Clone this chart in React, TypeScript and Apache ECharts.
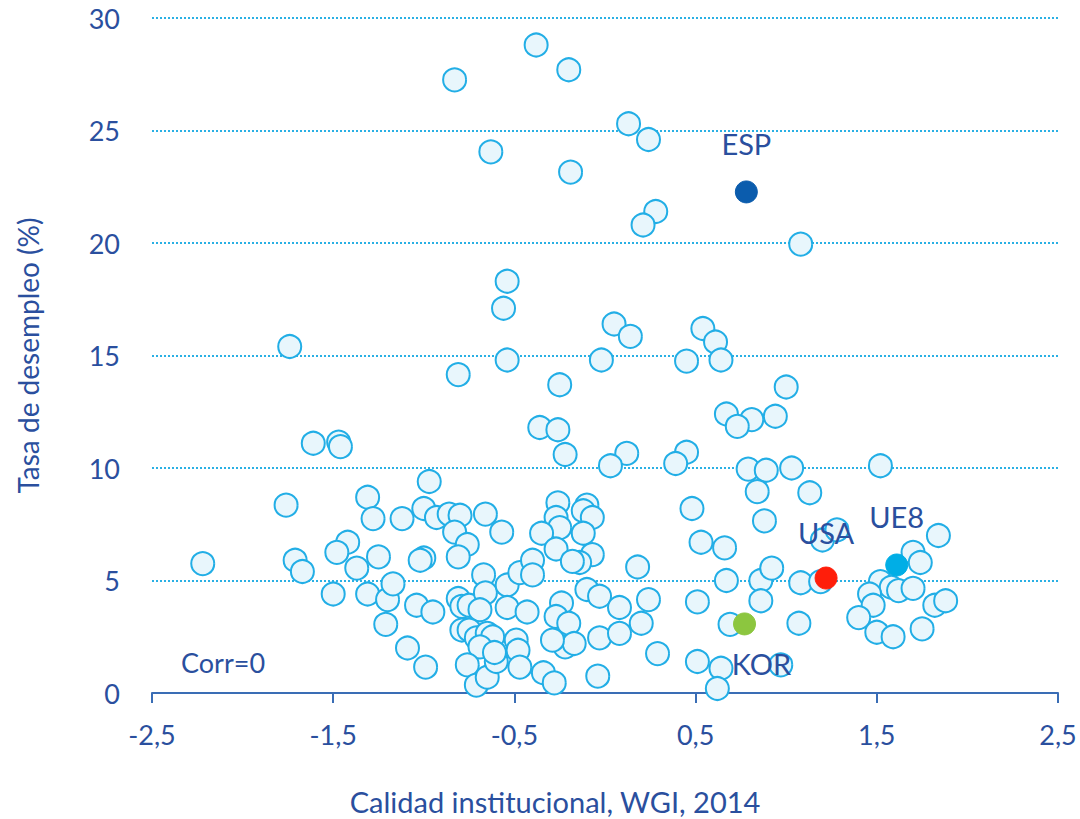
import React, { useEffect, useRef } from "react";
import * as echarts from "echarts";

// Other countries: WGI institutional quality (x) and unemployment rate % (y)
const otherX: number[] = [
  -0.38, -0.83, -0.2, 0.13, 0.24, -0.63, -0.19, 0.28, 0.21, 1.08,
  -0.54, -0.56, 0.05, 0.54, 0.14, 0.61, -1.74, -0.54, -0.02, 0.45,
  0.64, -0.81, -0.25, 1.0, 0.67, 0.94, 0.81, 0.73, -0.36, -0.26,
  -1.61, -1.47, -1.46, 0.45, 0.12, -0.22, 0.39, 0.03, 1.52, 0.79,
  1.03, 0.89, -0.97, 1.13, 0.84,
  -1.76, -1.31, -1.28, -1.42, -1.48, -1.25, -1.37, -2.22, -1.71, -1.67,
  -1.5, -1.31, -1.2, -1.21, -1.17, -1.12, -1.0, -0.93, -0.86, -0.8,
  -0.83, -0.76, -0.81, -0.66, -0.57, -1.0, -1.02, -1.04, -0.95, -1.09,
  -0.99, -0.67, -0.81, -0.79, -0.75, -0.66, -0.69, -0.54, -0.54, -0.43,
  -0.47, -0.4, -0.4, -0.79, -0.75, -0.71, -0.65, -0.62, -0.69, -0.76,
  -0.71, -0.65, -0.6, -0.61, -0.49, -0.48, -0.47, -0.34, -0.28, -0.26,
  -0.27, -0.25, -0.35, -0.1, -0.12, -0.07, -0.12, -0.27, -0.07, -0.14,
  -0.18, -0.1, -0.03, -0.24, -0.27, -0.2, -0.22, -0.17, -0.29, -0.03,
  -0.04,
  0.48, 0.88, 0.53, 0.66, 0.18, 0.67, 0.86, 0.92, 1.08, 1.19,
  1.2, 1.28, 0.86, 0.51, 0.24, 0.08, 0.2, 0.08, 0.69, 1.07,
  0.29, 0.51, 0.64, 0.62, 0.97, 1.84, 1.7, 1.74, 1.52, 1.58,
  1.62, 1.7, 1.46, 1.48, 1.4, 1.5, 1.59, 1.75, 1.82, 1.88,
];
const otherY: number[] = [
  28.8, 27.25, 27.7, 25.3, 24.6, 24.05, 23.15, 21.4, 20.8, 19.95,
  18.3, 17.1, 16.4, 16.2, 15.85, 15.6, 15.4, 14.8, 14.8, 14.75,
  14.8, 14.15, 13.7, 13.6, 12.4, 12.3, 12.15, 11.85, 11.8, 11.7,
  11.1, 11.15, 10.95, 10.7, 10.65, 10.6, 10.2, 10.1, 10.1, 9.95,
  10.0, 9.9, 9.4, 8.9, 8.95,
  8.35, 8.7, 7.75, 6.7, 6.25, 6.05, 5.55, 5.75, 5.9, 5.4,
  4.4, 4.4, 4.15, 3.05, 4.85, 7.75, 8.2, 7.8, 7.95, 7.9,
  7.15, 6.6, 6.05, 7.95, 7.15, 6.0, 5.9, 3.9, 3.6, 2.0,
  1.15, 5.25, 4.2, 3.85, 3.9, 4.45, 3.7, 4.8, 3.8, 3.6,
  5.35, 5.9, 5.25, 2.8, 2.8, 2.45, 2.65, 2.5, 2.05, 1.25,
  0.35, 0.7, 1.4, 1.8, 2.35, 1.9, 1.15, 0.9, 0.45, 8.45,
  7.8, 7.35, 7.1, 8.35, 8.1, 7.8, 7.1, 6.4, 6.15, 5.8,
  5.85, 4.6, 4.3, 4.0, 3.4, 3.1, 2.05, 2.2, 2.35, 2.45,
  0.75,
  8.2, 7.65, 6.7, 6.45, 5.6, 5.0, 5.0, 5.55, 4.9, 4.95,
  6.8, 7.25, 4.1, 4.05, 4.15, 3.8, 3.1, 2.65, 3.05, 3.1,
  1.75, 1.4, 1.1, 0.2, 1.25, 7.0, 6.25, 5.8, 4.95, 4.7,
  4.55, 4.65, 4.4, 3.9, 3.35, 2.7, 2.5, 2.85, 3.9, 4.1,
];

// Highlighted economies
const highlightNames: string[] = ["ESP", "USA", "UE8", "KOR"];
const highlightX: number[] = [0.78, 1.22, 1.61, 0.77];
const highlightY: number[] = [22.27, 5.11, 5.69, 3.07];
const highlightColors: string[] = ["#0b5cad", "#ff1e0a", "#00aee6", "#8cc63f"];

const xTicks: number[] = [-2.5, -1.5, -0.5, 0.5, 1.5, 2.5];
const yTicks: number[] = [0, 5, 10, 15, 20, 25, 30];

const textColor = "#2a4f9e";
const font = "Lato";

export default function App() {
  const ref = useRef<HTMLDivElement>(null);
  useEffect(() => {
    if (!ref.current) return;
    const chart = echarts.init(ref.current, undefined, { renderer: "svg" });
    const others = otherX.map((x, i) => [x, otherY[i]]);
    const labelOffsets: Record<string, number[]> = {
      ESP: [0, -48],
      USA: [0, -46],
      UE8: [0, -48],
      KOR: [17, 40],
    };
    const highlights = highlightNames.map((n, i) => ({
      name: n,
      value: [highlightX[i], highlightY[i]],
      itemStyle: { color: highlightColors[i], borderColor: highlightColors[i] },
      label: {
        show: true,
        formatter: n,
        position: "inside",
        offset: labelOffsets[n],
        color: textColor,
        fontSize: 29,
        fontFamily: font,
      },
    }));
    chart.setOption({
      animation: false,
      grid: { left: 152, right: 22, top: 18, bottom: 126 },
      xAxis: {
        type: "value",
        min: -2.5,
        max: 2.5,
        splitLine: { show: false },
        axisLine: { show: true, lineStyle: { color: "#3a6db5", width: 2 } },
        axisTick: {
          show: true,
          customValues: xTicks,
          length: 10,
          lineStyle: { color: "#3a6db5", width: 2 },
        },
        axisLabel: {
          customValues: xTicks,
          color: textColor,
          fontSize: 27,
          fontFamily: font,
          margin: 28,
          formatter: (v: number) => String(v).replace(".", ","),
        },
      },
      yAxis: {
        type: "value",
        min: 0,
        max: 30,
        interval: 5,
        name: "Tasa de desempleo (%)",
        nameLocation: "middle",
        nameGap: 110,
        nameTextStyle: { color: textColor, fontSize: 28, fontFamily: font },
        axisLine: { show: false },
        axisTick: { show: false },
        axisLabel: {
          color: textColor,
          fontSize: 27,
          fontFamily: font,
          margin: 32,
          customValues: yTicks,
        },
        splitLine: {
          show: true,
          lineStyle: { color: "#2ab0e4", width: 2, type: [2, 2] },
        },
      },
      graphic: [
        {
          type: "text",
          x: 181,
          y: 662,
          style: {
            text: "Corr=0",
            fill: textColor,
            fontSize: 27,
            fontFamily: font,
            verticalAlign: "middle",
          },
        },
        {
          type: "text",
          x: 555,
          y: 801,
          style: {
            text: "Calidad institucional, WGI, 2014",
            fill: textColor,
            fontSize: 29,
            fontFamily: font,
            align: "center",
            verticalAlign: "middle",
          },
        },
      ],
      series: [
        {
          type: "scatter",
          data: others,
          symbolSize: 23,
          itemStyle: { color: "#e8f6fc", borderColor: "#22aee6", borderWidth: 2, opacity: 1 },
          z: 2,
        },
        {
          type: "scatter",
          data: highlights,
          symbolSize: 22,
          itemStyle: { borderWidth: 1, opacity: 1 },
          z: 3,
        },
      ],
    });
    return () => chart.dispose();
  }, []);
  return (
    <div
      ref={ref}
      style={{ position: "absolute", left: 0, top: 0, width: 1080, height: 819 }}
    />
  );
}
